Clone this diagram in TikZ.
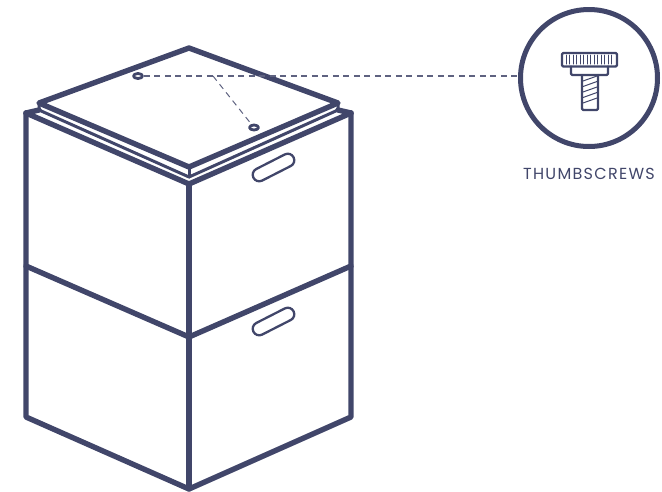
\documentclass[tikz,border=0pt]{standalone}
\usepackage{xcolor}
\usepackage{fontspec}
\setmainfont{Poppins}
\usepackage{tikz}
\usetikzlibrary{positioning, shapes.geometric}
\definecolor{boxblue}{HTML}{41466A}

\begin{document}
\begin{tikzpicture}[x=1pt, y=-1pt, line join=round, line cap=round, draw=boxblue, text=boxblue,
    boxline/.style={draw=boxblue, line width=5.4pt},
    lipline/.style={draw=boxblue, line width=3pt},
    leader/.style={draw=boxblue!85, line width=1.1pt, dash pattern=on 6pt off 4.5pt, line cap=butt},
    slot/.style={draw=boxblue, line width=2.3pt, rectangle, rounded corners=6.4pt, minimum width=45pt, minimum height=13pt, rotate=27, inner sep=0pt},
    hole/.style={draw=boxblue, line width=2.8pt, ellipse, minimum width=9pt, minimum height=5pt, inner sep=0pt},
    screwline/.style={draw=boxblue, line width=2.3pt, rounded corners=1.2pt},
    thin/.style={draw=boxblue, line width=1pt}]
  \useasboundingbox (0,0) rectangle (662,491);

  \coordinate (topleft) at (26,113);
  \coordinate (topfront) at (189,184);
  \coordinate (topright) at (351,113);
  \coordinate (midleft) at (26,266);
  \coordinate (midfront) at (189,337);
  \coordinate (midright) at (351,266);
  \coordinate (botleft) at (26,417);
  \coordinate (botfront) at (189,489);
  \coordinate (botright) at (351,417);

  \coordinate (lidback) at (189,48);
  \coordinate (lidleft) at (39,103);
  \coordinate (lidfront) at (189,167);
  \coordinate (lidright) at (338,103);
  \coordinate (lipleft) at (39,110);
  \coordinate (lipfront) at (189,177);
  \coordinate (lipright) at (338,110);

  % boxes
  \draw [boxline] (topleft) -- (botleft) -- (botfront) -- (botright) -- (topright);
  \draw [boxline] (topleft) -- (topfront) -- (topright);
  \draw [boxline] (topfront) -- (botfront);
  \draw [boxline] (midleft) -- (midfront) -- (midright);
  \draw [boxline] (topleft) -- (lipleft);
  \draw [boxline] (topright) -- (lipright);

  % lid
  \draw [lipline] (lidleft) -- (lipleft) -- (lipfront) -- (lipright) -- (lidright);
  \draw [lipline] (lidfront) -- (lipfront);
  \draw [boxline] (lidback) -- (lidleft) -- (lidfront) -- (lidright) -- cycle;

  % handles
  \node (slotupper) [slot] at (273.5,167.5) {};
  \node (slotlower) [slot] at (273.5,321.5) {};

  % screw holes
  \node (holeleft) [hole] at (138,76) {};
  \node (holeright) [hole] at (254,127.5) {};

  % thumbscrew
  \node (detail) [circle, draw=boxblue, line width=5pt, minimum size=137pt, inner sep=0pt] at (589,78) {};
  \node (caption) [below=19pt of detail, inner sep=0pt, font=\fontsize{16}{19}\selectfont\addfontfeature{LetterSpace=8}] {THUMBSCREWS};

  \coordinate (branch) at (213,76);
  \draw [leader] (holeleft) -- (detail.west |- holeleft);
  \draw [leader, line width=1pt] (branch) -- (holeright);

  \draw [screwline] (562,53) rectangle (617,66.5);
  \draw [screwline] (571,66.5) -- (571,75) -- (608,75) -- (608,66.5);
  \draw [screwline] (582,75) -- (582,110) -- (598,110) -- (598,75);
  \foreach \x in {566,569.5,...,614} {
    \draw [thin] (\x,55) -- (\x,64);
  }
  \foreach \y in {81,86.5,...,108} {
    \draw [thin] (583,\y) -- (597,\y-5);
  }
\end{tikzpicture}
\end{document}
